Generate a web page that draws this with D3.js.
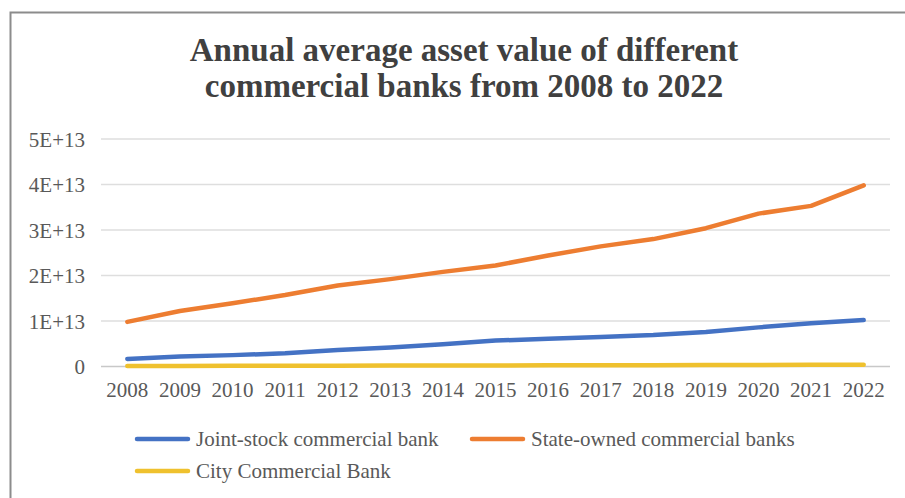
<!DOCTYPE html>
<html>
<head>
<meta charset="utf-8">
<script src="https://cdn.jsdelivr.net/npm/d3@7"></script>
<style>
  html, body { margin: 0; padding: 0; background: #ffffff; }
  svg { display: block; }
</style>
</head>
<body>
<svg id="chart" width="905" height="498"></svg>
<script>
// Annual average asset value (yuan), 2008–2022
const years = ["2008","2009","2010","2011","2012","2013","2014","2015","2016","2017","2018","2019","2020","2021","2022"];
const jointStock = [1.65e12, 2.2e12, 2.5e12, 2.9e12, 3.6e12, 4.2e12, 4.9e12, 5.7e12, 6.1e12, 6.5e12, 6.9e12, 7.6e12, 8.6e12, 9.5e12, 1.02e13];
const stateOwned = [9.8e12, 1.22e13, 1.39e13, 1.57e13, 1.78e13, 1.92e13, 2.08e13, 2.22e13, 2.44e13, 2.64e13, 2.8e13, 3.04e13, 3.36e13, 3.53e13, 3.98e13];
const cityBank   = [1.0e11, 1.2e11, 1.4e11, 1.6e11, 1.8e11, 2.0e11, 2.2e11, 2.4e11, 2.6e11, 2.8e11, 3.0e11, 3.2e11, 3.4e11, 3.6e11, 3.8e11];
const yTicks = [0, 1e13, 2e13, 3e13, 4e13, 5e13];
const yTickLabels = ["0", "1E+13", "2E+13", "3E+13", "4E+13", "5E+13"];
const seriesNames = ["Joint-stock commercial bank", "State-owned commercial banks", "City Commercial Bank"];
const titleLines = ["Annual average asset value of different", "commercial banks from 2008 to 2022"];

const series = [
  { name: seriesNames[0], values: jointStock, color: "#4472C4" },
  { name: seriesNames[1], values: stateOwned, color: "#ED7D31" },
  { name: seriesNames[2], values: cityBank,   color: "#EFC12E" }
];

const font = "'Liberation Serif', 'Times New Roman', serif";
const svg = d3.select("#chart");

// outer frame
svg.append("rect")
  .attr("x", 10.5).attr("y", 12.5)
  .attr("width", 905).attr("height", 498)
  .attr("fill", "none").attr("stroke", "#8c8c8c").attr("stroke-width", 2);

// title
svg.append("g").selectAll("text").data(titleLines).join("text")
  .attr("x", 464).attr("y", (d, i) => 61 + i * 36)
  .attr("text-anchor", "middle")
  .attr("font-family", font).attr("font-weight", "bold")
  .attr("font-size", 33).attr("fill", "#404040")
  .text(d => d);

const x = d3.scaleBand().domain(years).range([101, 890]);
const y = d3.scaleLinear().domain([0, 5e13]).range([366.5, 139]);

// gridlines
svg.append("g").selectAll("line").data(yTicks).join("line")
  .attr("x1", 101).attr("x2", 890)
  .attr("y1", d => y(d)).attr("y2", d => y(d))
  .attr("stroke", d => d === 0 ? "#c8c8c8" : "#dedede")
  .attr("stroke-width", 1.5);

// y axis labels
const yAxis = d3.axisLeft(y).tickValues(yTicks).tickSize(0).tickPadding(0)
  .tickFormat((d, i) => yTickLabels[i]);
svg.append("g").attr("transform", "translate(85,0)").call(yAxis)
  .call(g => g.select(".domain").remove())
  .selectAll("text")
  .attr("font-family", font).attr("font-size", 21).attr("fill", "#595959")
  .attr("dy", "0.35em");

// x axis labels
const xAxis = d3.axisBottom(x).tickSize(0).tickPadding(0);
svg.append("g").attr("transform", "translate(0,382)").call(xAxis)
  .call(g => g.select(".domain").remove())
  .selectAll("text")
  .attr("font-family", font).attr("font-size", 21).attr("fill", "#595959")
  .attr("dy", "0.71em");

// lines
const line = d3.line()
  .x((d, i) => x(years[i]) + x.bandwidth() / 2)
  .y(d => y(d));

svg.append("g").selectAll("path").data(series).join("path")
  .attr("d", d => line(d.values))
  .attr("fill", "none")
  .attr("stroke", d => d.color)
  .attr("stroke-width", 4.5)
  .attr("stroke-linecap", "round")
  .attr("stroke-linejoin", "round");

// legend
const legendPos = [[137, 439], [472, 439], [137, 471]];
const legend = svg.append("g").selectAll("g").data(series).join("g")
  .attr("transform", (d, i) => `translate(${legendPos[i][0]},${legendPos[i][1]})`);
legend.append("line")
  .attr("x1", 0).attr("x2", 51).attr("y1", 0).attr("y2", 0)
  .attr("stroke", d => d.color).attr("stroke-width", 4.5)
  .attr("stroke-linecap", "round");
legend.append("text")
  .attr("x", 59).attr("y", 0).attr("dy", "0.35em")
  .attr("font-family", font).attr("font-size", 21).attr("fill", "#595959")
  .text(d => d.name);
</script>
</body>
</html>
